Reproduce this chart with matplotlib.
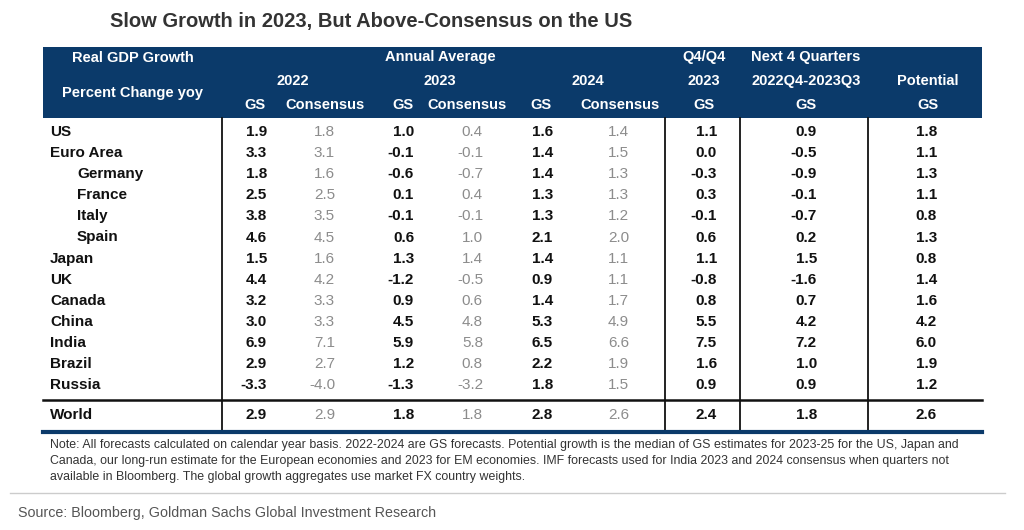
import matplotlib.pyplot as plt
from matplotlib.patches import Rectangle

# table data
countries = ["US", "Euro Area", "Germany", "France", "Italy", "Spain", "Japan",
             "UK", "Canada", "China", "India", "Brazil", "Russia"]
indented = ["Germany", "France", "Italy", "Spain"]
gs_2022 = [1.9, 3.3, 1.8, 2.5, 3.8, 4.6, 1.5, 4.4, 3.2, 3.0, 6.9, 2.9, -3.3]
cons_2022 = [1.8, 3.1, 1.6, 2.5, 3.5, 4.5, 1.6, 4.2, 3.3, 3.3, 7.1, 2.7, -4.0]
gs_2023 = [1.0, -0.1, -0.6, 0.1, -0.1, 0.6, 1.3, -1.2, 0.9, 4.5, 5.9, 1.2, -1.3]
cons_2023 = [0.4, -0.1, -0.7, 0.4, -0.1, 1.0, 1.4, -0.5, 0.6, 4.8, 5.8, 0.8, -3.2]
gs_2024 = [1.6, 1.4, 1.4, 1.3, 1.3, 2.1, 1.4, 0.9, 1.4, 5.3, 6.5, 2.2, 1.8]
cons_2024 = [1.4, 1.5, 1.3, 1.3, 1.2, 2.0, 1.1, 1.1, 1.7, 4.9, 6.6, 1.9, 1.5]
q4q4_2023 = [1.1, 0.0, -0.3, 0.3, -0.1, 0.6, 1.1, -0.8, 0.8, 5.5, 7.5, 1.6, 0.9]
next4q = [0.9, -0.5, -0.9, -0.1, -0.7, 0.2, 1.5, -1.6, 0.7, 4.2, 7.2, 1.0, 0.9]
potential = [1.8, 1.1, 1.3, 1.1, 0.8, 1.3, 0.8, 1.4, 1.6, 4.2, 6.0, 1.9, 1.2]
world = [2.9, 2.9, 1.8, 1.8, 2.8, 2.6, 2.4, 1.8, 2.6]

title = "Slow Growth in 2023, But Above-Consensus on the US"
note = ("Note: All forecasts calculated on calendar year basis. 2022-2024 are GS forecasts. Potential growth is the median of GS estimates for 2023-25 for the US, Japan and\n"
        "Canada, our long-run estimate for the European economies and 2023 for EM economies. IMF forecasts used for India 2023 and 2024 consensus when quarters not\n"
        "available in Bloomberg. The global growth aggregates use market FX country weights.")
source = "Source: Bloomberg, Goldman Sachs Global Investment Research"

navy = "#0b3a6a"
grey = "#8c8c8c"
plt.rcParams['font.family'] = ['Liberation Sans', 'DejaVu Sans']

fig = plt.figure(figsize=(10.24, 5.30), dpi=100)
ax = fig.add_axes([0, 0, 1, 1])
ax.set_xlim(0, 1024)
ax.set_ylim(530, 0)
ax.axis("off")

ax.text(371, 21, title, fontsize=14.5, fontweight="bold",
        color="#333333", ha="center", va="center")

# header block
ax.add_patch(Rectangle((43, 47), 939, 71, color=navy, lw=0))
hdr = dict(color="white", fontsize=10.5, fontweight="bold", ha="center", va="center")
ax.text(133, 58, "Real GDP Growth", **hdr)
ax.text(133, 93, "Percent Change yoy", **hdr)
ax.text(440, 57, "Annual Average", **hdr)
ax.text(704, 57, "Q4/Q4", **hdr)
ax.text(806, 57, "Next 4 Quarters", **hdr)
ax.text(293, 81, "2022", **hdr)
ax.text(440, 81, "2023", **hdr)
ax.text(588, 81, "2024", **hdr)
ax.text(704, 81, "2023", **hdr)
ax.text(806, 81, "2022Q4-2023Q3", **hdr)
ax.text(928, 81, "Potential", **hdr)
sub_x = [255, 325, 403, 467, 541, 620, 704, 806, 928]
sub_lab = ["GS", "Consensus", "GS", "Consensus", "GS", "Consensus", "GS", "GS", "GS"]
for x, s in zip(sub_x, sub_lab):
    ax.text(x, 105, s, **hdr)

# body
cols = [gs_2022, cons_2022, gs_2023, cons_2023, gs_2024, cons_2024, q4q4_2023, next4q, potential]
col_right = [267, 335, 414, 483, 553, 629, 717, 817, 937]
col_grey = [False, True, False, True, False, True, False, False, False]
row_step = 21.1
y0 = 132
for i, name in enumerate(countries):
    y = y0 + i * row_step
    x = 77 if name in indented else 50
    ax.text(x, y, name, fontsize=11, fontweight="bold", color="#111111", va="center")
    for vals, xr, g in zip(cols, col_right, col_grey):
        ax.text(xr, y, f"{vals[i]:.1f}", fontsize=11, fontweight="bold" if not g else "normal",
                color=grey if g else "#111111", ha="right", va="center")

yw = 415
ax.text(50, yw, "World", fontsize=11, fontweight="bold", color="#111111", va="center")
for v, xr, g in zip(world, col_right, col_grey):
    ax.text(xr, yw, f"{v:.1f}", fontsize=11, fontweight="bold" if not g else "normal",
            color=grey if g else "#111111", ha="right", va="center")

# rules
for xv in [222, 665, 740, 868]:
    ax.plot([xv, xv], [118, 431], color="#111111", lw=1.3)
ax.plot([43, 982], [400, 400], color="#111111", lw=1.8)
ax.plot([43, 982], [432, 432], color=navy, lw=3)

ax.text(50, 461, note, fontsize=8.9, color="#333333", va="center", linespacing=1.45)
ax.plot([10, 1005], [493, 493], color="#cccccc", lw=1)
ax.text(18, 513, source, fontsize=10.3, color="#555555", va="center")

fig.savefig("out.png", dpi=100)
